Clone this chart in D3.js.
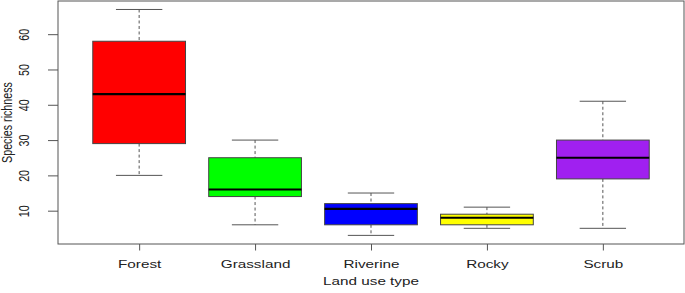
<!DOCTYPE html>
<html>
<head>
<meta charset="utf-8">
<script src="https://cdn.jsdelivr.net/npm/d3@7"></script>
<style>
  body { margin: 0; background: #fff; }
  text { font-family: "Liberation Sans", Arial, sans-serif; fill: #222; }
</style>
</head>
<body>
<div id="chart"></div>
<script>
// boxplot stats
let landUse = ["Forest", "Grassland", "Riverine", "Rocky", "Scrub"];
let whiskerLow = [20, 6, 3, 5, 5];
let q1 = [29, 14, 6, 6, 19];
let median = [43, 16, 10.5, 8, 25];
let q3 = [58, 25, 12, 9, 30];
let whiskerHigh = [67, 30, 15, 11, 41];
let boxColors = ["#ff0000", "#00ff00", "#0000ff", "#ffff00", "#a020f0"];
let yTicks = [10, 20, 30, 40, 50, 60];

let width = 685, height = 293;
let padLeft = 58, padRight = 684, padTop = 1, padBottom = 244;
// the original figure is stretched sideways, so text is too
let stretch = 1.33;

let svg = d3.select("#chart").append("svg")
  .attr("width", width).attr("height", height);

let x = d3.scalePoint()
  .domain(landUse)
  .range([padLeft, padRight])
  .padding(0.7);

let y = d3.scaleLinear()
  .domain([0.56, 69.4])
  .range([padBottom, padTop]);

let step = x.step();
let boxW = step * 0.8;
let capW = step * 0.4;

let rows = landUse.map(function(d, i) {
  return { name: d, lo: whiskerLow[i], q1: q1[i], med: median[i], q3: q3[i], hi: whiskerHigh[i], color: boxColors[i] };
});

let g = svg.selectAll(".box")
  .data(rows)
  .enter().append("g")
  .attr("class", "box");

// dashed whiskers
g.append("line")
  .attr("x1", d => x(d.name)).attr("x2", d => x(d.name))
  .attr("y1", d => y(d.hi)).attr("y2", d => y(d.q3))
  .attr("stroke", "#555").attr("stroke-dasharray", "3,2.5");
g.append("line")
  .attr("x1", d => x(d.name)).attr("x2", d => x(d.name))
  .attr("y1", d => y(d.q1)).attr("y2", d => y(d.lo))
  .attr("stroke", "#555").attr("stroke-dasharray", "3,2.5");

// caps
g.append("line")
  .attr("x1", d => x(d.name) - capW / 2).attr("x2", d => x(d.name) + capW / 2)
  .attr("y1", d => y(d.hi)).attr("y2", d => y(d.hi))
  .attr("stroke", "#555");
g.append("line")
  .attr("x1", d => x(d.name) - capW / 2).attr("x2", d => x(d.name) + capW / 2)
  .attr("y1", d => y(d.lo)).attr("y2", d => y(d.lo))
  .attr("stroke", "#555");

// boxes
g.append("rect")
  .attr("x", d => x(d.name) - boxW / 2)
  .attr("width", boxW)
  .attr("y", d => y(d.q3))
  .attr("height", d => y(d.q1) - y(d.q3))
  .attr("fill", d => d.color)
  .attr("stroke", "#444");

// medians
g.append("line")
  .attr("x1", d => x(d.name) - boxW / 2).attr("x2", d => x(d.name) + boxW / 2)
  .attr("y1", d => y(d.med)).attr("y2", d => y(d.med))
  .attr("stroke", "#000").attr("stroke-width", 2.2);

// frame
svg.append("rect")
  .attr("x", padLeft).attr("y", padTop)
  .attr("width", padRight - padLeft).attr("height", padBottom - padTop)
  .attr("fill", "none").attr("stroke", "#555");

// axes
let yAxis = svg.append("g")
  .attr("transform", "translate(" + padLeft + ",0)")
  .call(d3.axisLeft(y).tickValues(yTicks).tickSize(10).tickPadding(0));
yAxis.select(".domain").remove();
yAxis.selectAll("line").attr("stroke", "#555");
yAxis.selectAll("text")
  .attr("transform", "scale(" + stretch + ",1) rotate(-90)")
  .attr("x", 0).attr("dy", 0).attr("y", -21.5)
  .attr("text-anchor", "middle")
  .style("font-size", "10.7px")
  .style("font-family", "'Liberation Sans', Arial, sans-serif")
  .attr("fill", "#222");

let xAxis = svg.append("g")
  .attr("transform", "translate(0," + padBottom + ")")
  .call(d3.axisBottom(x).tickSize(6.5));
xAxis.select(".domain").remove();
xAxis.selectAll("line").attr("stroke", "#555");
xAxis.selectAll("text")
  .attr("transform", "scale(" + stretch + ",1)")
  .attr("y", 24).attr("dy", 0)
  .style("font-size", "11.5px")
  .style("font-family", "'Liberation Sans', Arial, sans-serif")
  .attr("fill", "#222");

svg.append("text")
  .attr("transform", "translate(371,285) scale(" + stretch + ",1)")
  .attr("text-anchor", "middle")
  .style("font-size", "11.5px")
  .text("Land use type");

svg.append("text")
  .attr("transform", "translate(11.5,122.5) scale(" + stretch + ",1) rotate(-90)")
  .attr("text-anchor", "middle")
  .style("font-size", "10.7px")
  .text("Species richness");
</script>
</body>
</html>
